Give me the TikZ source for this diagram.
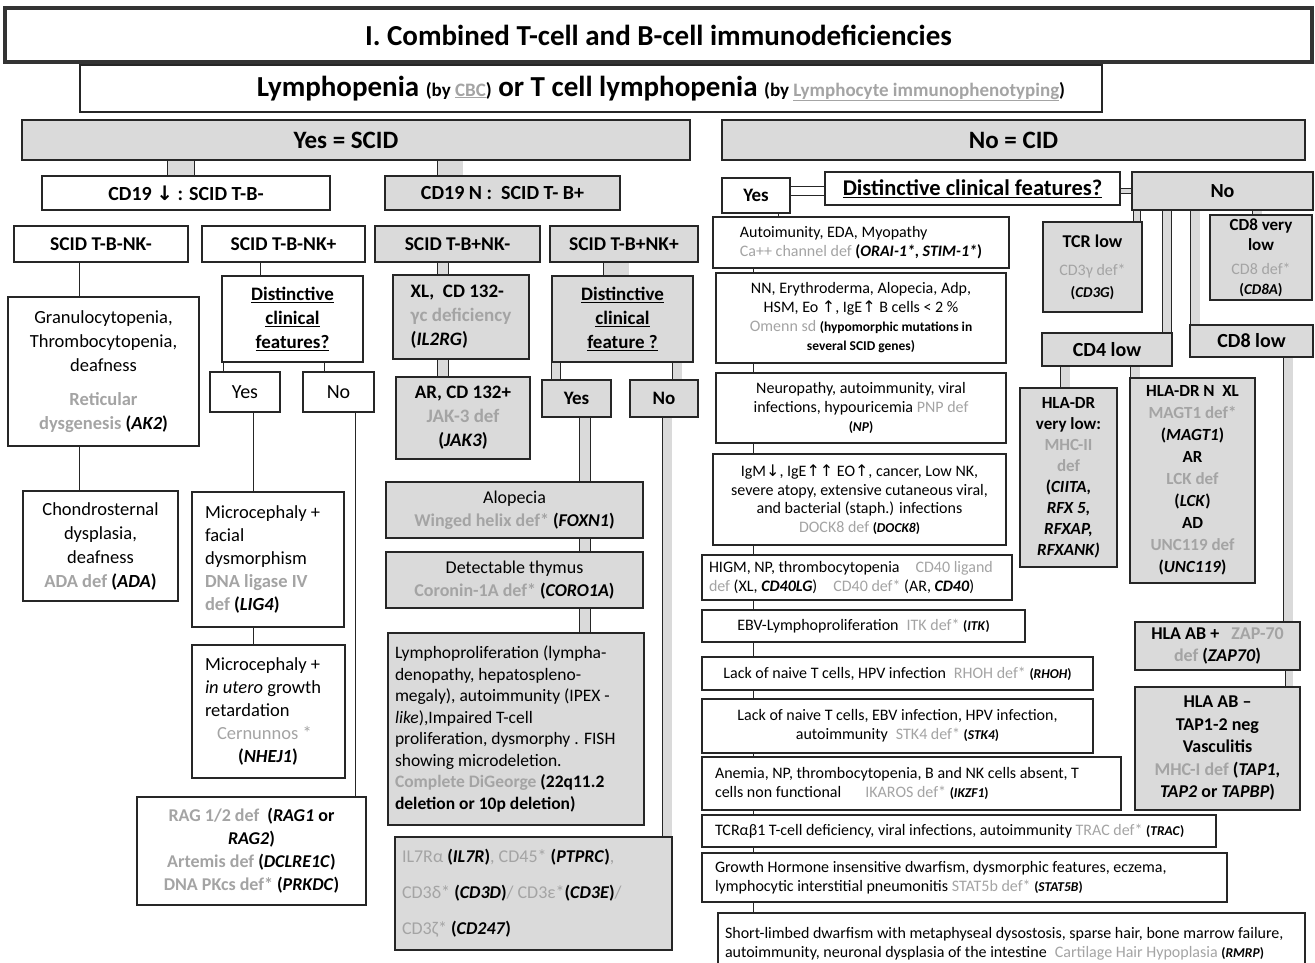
\documentclass[tikz,border=0pt]{standalone}
\usepackage{fontspec}
\setmainfont{Carlito}
\newfontfamily\arrf{DejaVu Sans}
\pgfdeclarelayer{bg}
\pgfsetlayers{bg,main}
\definecolor{bl}{HTML}{262626}
\definecolor{fg}{HTML}{DADADA}
\definecolor{gt}{HTML}{A4A4A4}
\newcommand\gr[1]{\textcolor{gt}{#1}}
\newcommand\ua{{\arrf ↑}}
\newcommand\da{{\arrf ↓}}
\newcommand\fs[2]{\fontsize{#1}{#2}\selectfont}
\newcommand\BX[7]{%
 \pgfmathsetmacro\BXw{#5-#3}%
 \pgfmathsetmacro\BXh{#6-#4}%
 \pgfmathsetmacro\BXx{(#3+#5)/2}%
 \pgfmathsetmacro\BXy{(#4+#6)/2}%
 \pgfmathsetmacro\BXt{#5-#3-14}%
 \pgfmathsetmacro\BXu{#5-#3-26}%
 \node[#2, minimum width=\BXw pt, minimum height=\BXh pt] (#1) at (\BXx,\BXy) {#7};}
\tikzset{
 bx/.style={draw=bl, line width=1.1pt, fill=white, inner sep=1pt, outer sep=0pt, align=center},
 gx/.style={bx, fill=fg},
 lf/.style={align=flush left, text width=\BXt pt},
 lfn/.style={align=flush left, text width=\BXu pt},
 cv/.style={draw=bl, line width=0.9pt, double=white},
 cg/.style={draw=bl, line width=0.9pt, double=fg},
}
\begin{document}
\begin{tikzpicture}[x=1pt,y=-1pt]
\useasboundingbox (0,0) rectangle (1315,962);
% ---------- top ----------
\BX{title}{bx, line width=3.5pt, draw=black!80, font=\fs{29}{33}\bfseries}{5}{8}{1312}{62}{I. Combined T-cell and B-cell immunodeficiencies}
\BX{lymph}{bx, line width=2pt, font=\fs{29}{33}\bfseries}{80}{65}{1102}{112}{\hspace*{140pt}Lymphopenia {\fs{19}{22}(by \gr{\underline{CBC}})} or T cell lymphopenia {\fs{19}{22}(by \gr{\underline{Lymphocyte immunophenotyping}})}}
\BX{yesscid}{gx, font=\fs{25}{28}\bfseries}{22}{120}{690}{160}{Yes = SCID\hspace*{20pt}}
\BX{nocid}{gx, font=\fs{25}{28}\bfseries}{722}{120}{1305}{160}{No = CID}
% ---------- SCID ----------
\BX{cd19d}{bx, font=\fs{20}{24}\bfseries}{42}{176}{330}{210}{CD19 \da\ : SCID T-B-}
\BX{cd19n}{gx, font=\fs{20}{24}\bfseries}{385}{176}{620}{210}{CD19 N :~ SCID T- B+}
\BX{scidA}{bx, font=\fs{19.5}{22}\bfseries}{14}{226}{188}{262}{SCID T-B-NK-}
\BX{scidB}{bx, font=\fs{19.5}{22}\bfseries}{202}{226}{365}{262}{SCID T-B-NK+}
\BX{scidC}{gx, font=\fs{19.5}{22}\bfseries}{375}{226}{540}{262}{SCID T-B+NK-}
\BX{scidD}{gx, font=\fs{19.5}{22}\bfseries}{550}{226}{698}{262}{SCID T-B+NK+}
\BX{granulo}{bx, font=\fs{18.5}{24}}{8}{297}{199}{446}{Granulocytopenia,\\Thrombocytopenia,\\deafness\\[10pt]\textbf{\gr{Reticular}}\\\textbf{\gr{dysgenesis} (\textit{AK2})}}
\BX{chondro}{bx, font=\fs{18.5}{24}}{23}{491}{178}{601}{Chondrosternal\\dysplasia,\\deafness\\\textbf{\gr{ADA def} (\textit{ADA})}}
\BX{dist1}{bx, font=\fs{19}{24}\bfseries}{222}{276}{363}{362}{\underline{Distinctive}\\\underline{clinical}\\\underline{features?}}
\BX{yes1}{bx, font=\fs{20}{24}}{210}{372}{280}{412}{Yes}
\BX{no1}{bx, font=\fs{20}{24}}{303}{372}{374}{412}{No}
\BX{micro1}{bx, lfn, font=\fs{18.5}{23}}{192}{492}{344}{627}{Microcephaly +\\facial\\dysmorphism\\\textbf{\gr{DNA ligase IV}}\\\textbf{\gr{def} (\textit{LIG4})}}
\BX{micro2}{bx, lfn, font=\fs{18.5}{23}}{192}{645}{345}{778}{Microcephaly +\\\textit{in utero} growth\\retardation\\\hspace*{12pt}\gr{Cernunnos *}\\\hspace*{33pt}\textbf{(\textit{NHEJ1})}}
\BX{rag}{bx, font=\fs{18}{23}\bfseries}{137}{797}{366}{905}{\gr{RAG 1/2 def}~~(\textit{RAG1} or\\\textit{RAG2})\\\gr{Artemis def} (\textit{DCLRE1C})\\\gr{DNA PKcs def*} (\textit{PRKDC})}
\BX{xl}{gx, align=flush left, font=\fs{19}{24}\bfseries}{393}{275}{529}{359}{XL,~ CD 132-\\\gr{γc deficiency}\\(\textit{IL2RG})}
\BX{ar}{gx, font=\fs{19}{24}\bfseries}{396}{377}{530}{459}{AR, CD 132+\\\gr{JAK-3 def}\\(\textit{JAK3})}
\BX{dist2}{gx, font=\fs{19}{24}\bfseries}{552}{276}{693}{362}{\underline{Distinctive}\\\underline{clinical}\\\underline{feature ?}}
\BX{yes2}{gx, font=\fs{19}{24}\bfseries}{542}{380}{611}{417}{Yes}
\BX{no2}{gx, font=\fs{19}{24}\bfseries}{630}{380}{698}{417}{No}
\BX{alop}{gx, font=\fs{18}{23}}{386}{482}{643}{538}{Alopecia\\\textbf{\gr{Winged helix def*} (\textit{FOXN1})}}
\BX{detect}{gx, font=\fs{18}{23}}{386}{552}{643}{608}{Detectable thymus\\\textbf{\gr{Coronin-1A def*} (\textit{CORO1A})}}
\BX{lympho}{gx, lf, font=\fs{17.5}{21.5}}{388}{633}{644}{825}{Lymphoproliferation (lympha-\\denopathy, hepatospleno-\\megaly), autoimmunity (IPEX -\\\textit{like}),Impaired T-cell\\proliferation, dysmorphy . FISH\\showing microdeletion.\\\textbf{\gr{Complete DiGeorge} (22q11.2}\\\textbf{deletion or 10p deletion)}}
\BX{il7r}{gx, lf, font=\fs{18}{36}}{395}{837}{672}{950}{\gr{IL7Rα} \textbf{(\textit{IL7R})}\gr{, CD45*} \textbf{(\textit{PTPRC})}\gr{,}\\\gr{CD3δ*} \textbf{(\textit{CD3D})}\gr{/ CD3ε*}\textbf{(\textit{CD3E})}\gr{/}\\\gr{CD3ζ*} \textbf{(\textit{CD247})}}
% ---------- CID ----------
\BX{yes3}{bx, font=\fs{19}{24}\bfseries}{722}{178}{790}{213}{Yes}
\BX{dist3}{bx, font=\fs{22.5}{26}\bfseries}{825}{172}{1120}{205}{\underline{Distinctive clinical features?}}
\BX{no3}{gx, font=\fs{20}{24}\bfseries}{1132}{172}{1313}{210}{No}
\BX{auto}{bx, align=flush left, font=\fs{16}{19}}{713}{217}{1009}{268}{Autoimunity, EDA, Myopathy\\\gr{Ca++ channel def} \textbf{(\textit{ORAI-1*}, \textit{STIM-1*})}}
\BX{nn}{bx, font=\fs{16}{19}}{716}{273}{1006}{363}{NN, Erythroderma, Alopecia, Adp,\\HSM, Eo \ua, IgE\ua\ B cells < 2 \%\\\gr{Omenn sd} {\fs{13.5}{19}\bfseries(hypomorphic mutations in}\\{\fs{13.5}{19}\bfseries several SCID genes)}}
\BX{neuro}{bx, font=\fs{16}{19}}{716}{373}{1006}{443}{Neuropathy, autoimmunity, viral\\infections, hypouricemia \gr{PNP def}\\{\fs{13.5}{19}\bfseries(\textit{NP})}}
\BX{igm}{bx, font=\fs{16}{18.5}}{713}{454}{1006}{545}{IgM\da, IgE\ua\ua\ EO\ua, cancer, Low NK,\\severe atopy, extensive cutaneous viral,\\and bacterial (staph.) infections\\\gr{DOCK8 def} {\fs{13.5}{18.5}\bfseries(\textit{DOCK8})}}
\BX{higm}{bx, lf, font=\fs{16}{19}}{702}{555}{1012}{600}{HIGM, NP, thrombocytopenia\quad\gr{CD40 ligand}\\\gr{def} (XL, \textbf{\textit{CD40LG}})\quad\gr{CD40 def*} (AR, \textbf{\textit{CD40}})}
\BX{ebv}{bx, font=\fs{16}{19}}{702}{610}{1025}{642}{EBV-Lymphoproliferation\enspace\gr{ITK def*} {\fs{13.5}{19}\bfseries(\textit{ITK})}}
\BX{rhoh}{bx, font=\fs{16}{19}}{702}{657}{1093}{690}{Lack of naive T cells, HPV infection\enspace\gr{RHOH def*} {\fs{13.5}{19}\bfseries(\textit{RHOH})}}
\BX{stk4}{bx, font=\fs{16}{19}}{702}{699}{1093}{753}{Lack of naive T cells, EBV infection, HPV infection,\\autoimmunity\enspace\gr{STK4 def*} {\fs{13.5}{19}\bfseries(\textit{STK4})}}
\BX{anemia}{bx, lfn, font=\fs{16}{19}}{702}{757}{1121}{810}{Anemia, NP, thrombocytopenia, B and NK cells absent, T\\cells non functional\hspace{24pt}\gr{IKAROS def*} {\fs{13.5}{19}\bfseries(\textit{IKZF1})}}
\BX{tcrab}{bx, lfn, font=\fs{16}{19}}{702}{815}{1216}{847}{TCRαβ1 T-cell deficiency, viral infections, autoimmunity \gr{TRAC def*} {\fs{13.5}{19}\bfseries(\textit{TRAC})}}
\BX{growth}{bx, lfn, font=\fs{16}{19}}{702}{853}{1227}{902}{Growth Hormone insensitive dwarfism, dysmorphic features, eczema,\\lymphocytic interstitial pneumonitis \gr{STAT5b def*} {\fs{13.5}{19}\bfseries(\textit{STAT5B})}}
\BX{short}{bx, lf, font=\fs{16}{19}}{718}{913}{1305}{975}{Short-limbed dwarfism with metaphyseal dysostosis, sparse hair, bone marrow failure,\\autoimmunity, neuronal dysplasia of the intestine\enspace\gr{Cartilage Hair Hypoplasia} {\fs{13.5}{19}\bfseries(\textit{RMRP})}}
% far right
\BX{tcrlow}{gx, font=\fs{18}{22}\bfseries}{1043}{222}{1142}{312}{TCR low\\[6pt]{\fs{16}{20}\mdseries\gr{CD3γ def*}}\\{\fs{15}{18}(\textit{CD3G})}}
\BX{cd8vl}{gx, font=\fs{17}{20}\bfseries}{1210}{215}{1312}{300}{CD8 very\\low\\[4pt]{\fs{16}{19}\mdseries\gr{CD8 def*}}\\{\fs{15}{18}(\textit{CD8A})}}
\BX{cd4low}{gx, font=\fs{20}{24}\bfseries}{1042}{333}{1172}{366}{CD4 low}
\BX{cd8low}{gx, font=\fs{20}{24}\bfseries}{1190}{325}{1313}{357}{CD8 low}
\BX{hladr1}{gx, font=\fs{17}{21}\bfseries}{1020}{388}{1117}{567}{HLA-DR\\very low:\\\gr{MHC-II}\\\gr{def}\\(\textit{CIITA,}\\\textit{RFX 5,}\\\textit{RFXAP,}\\\textit{RFXANK)}}
\BX{hladr2}{gx, font=\fs{17}{22}\bfseries}{1130}{378}{1255}{583}{HLA-DR N~ XL\\\gr{MAGT1 def*}\\(\textit{MAGT1})\\AR\\\gr{LCK def}\\(\textit{LCK})\\AD\\\gr{UNC119 def}\\(\textit{UNC119})}
\BX{hlaabp}{gx, font=\fs{18}{22}\bfseries}{1135}{622}{1300}{670}{HLA AB +~~~\gr{ZAP-70}\\\gr{def} (\textit{ZAP70})}
\BX{hlaabm}{gx, font=\fs{18}{22.5}\bfseries}{1135}{687}{1300}{810}{HLA AB –\\TAP1-2 neg\\Vasculitis\\\gr{MHC-I def} (\textit{TAP1,}\\\textit{TAP2} or \textit{TAPBP})}
% ---------- connectors ----------
\begin{pgfonlayer}{bg}
\fill[white] (0,0) rectangle (1315,962);
\foreach \a/\b/\x/\w in {scidA/granulo/89/19, granulo/chondro/89/19, scidB/dist1/271/21, dist1/yes1/228/9, dist1/no1/329/9, yes1/micro1/258/9, micro1/micro2/258/9, no1/rag/360/9, yes3/auto/785/13}
  \draw[cv, double distance=\w pt] (\a.south -| \x,0) -- (\b.north -| \x,0);
\foreach \a/\b/\x/\w in {yesscid/cd19d/181/26, yesscid/cd19n/450/25, scidC/xl/443/10, xl/ar/443/10, scidD/dist2/616/25, dist2/yes2/556/8, dist2/no2/677/9, yes2/alop/585/10, alop/detect/585/10, detect/lympho/585/10, no2/il7r/667/9, no3/tcrlow/1137/6, no3/cd4low/1167/8, no3/cd8low/1195/9, no3/cd8vl/1257/9, cd4low/hladr1/1065/9, cd4low/hladr2/1135/9, cd8low/hlaabp/1288/9, hlaabp/hlaabm/1289/7}
  \draw[cg, double distance=\w pt] (\a.south -| \x,0) -- (\b.north -| \x,0);
\foreach \a/\b in {auto/nn, nn/neuro, neuro/igm, igm/higm, higm/ebv, ebv/rhoh, rhoh/stk4, stk4/anemia, anemia/tcrab, tcrab/growth, growth/short}
  \draw[cv, double distance=19pt] (\a.south -| 763,0) -- (\b.north -| 763,0);
\draw[cv, double distance=8pt] (yes3.east |- 0,191) -- (dist3.west |- 0,191);
\draw[cg, double distance=4pt] (dist3.east |- 0,191) -- (no3.west |- 0,191);
\end{pgfonlayer}
\end{tikzpicture}
\end{document}
